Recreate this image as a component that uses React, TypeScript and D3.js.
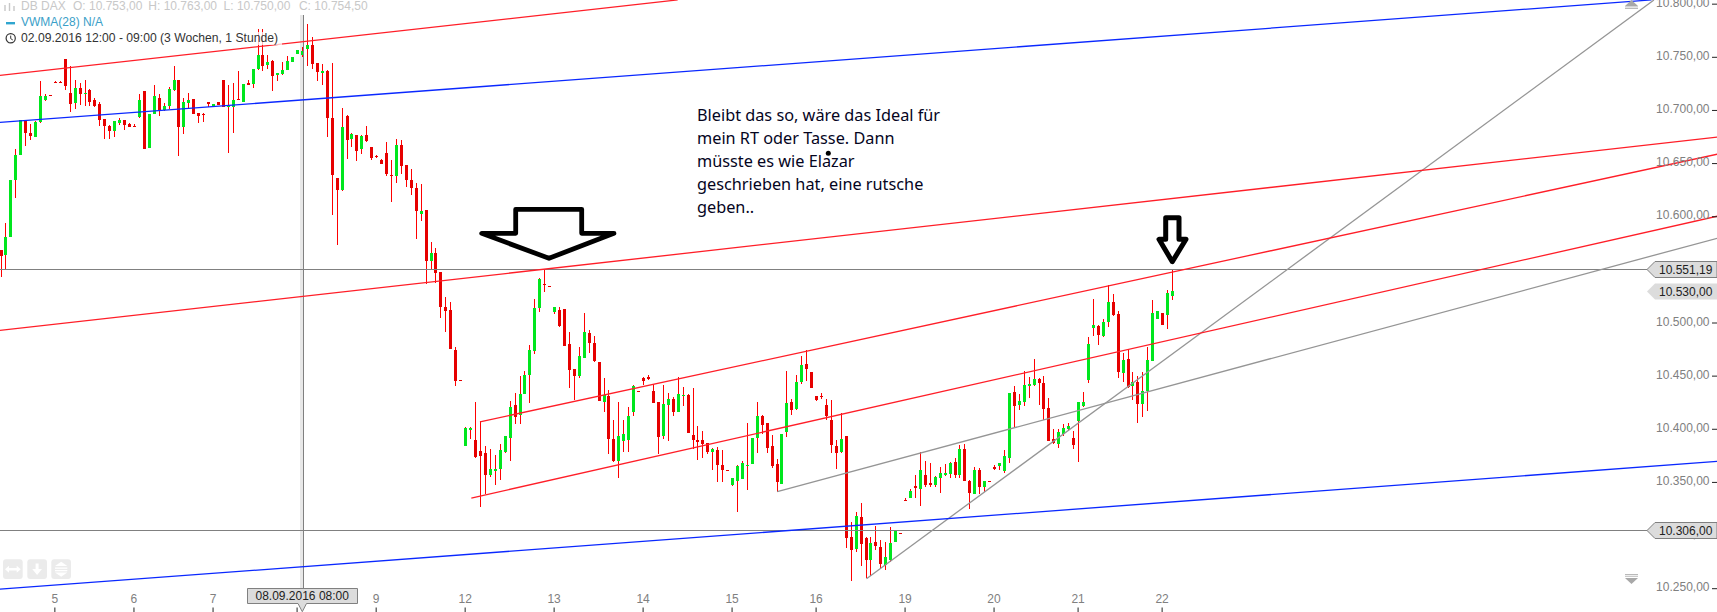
import React from "react";
import * as d3 from "d3";

type Candle = [number, number, number, number];

// [open, high, low, close] per hour, one list per trading stretch
const candlesSep02to06: Candle[] = [
  [10569,10569,10543,10563],[10564,10594,10550,10581],[10581,10635,10581,10635],[10635,10664,10618,10658],
  [10658,10691,10658,10691],[10691,10691,10667,10679],[10679,10687,10672,10676],[10675,10690,10675,10689],
  [10689,10728,10688,10714],[10710,10715,10709,10714],[10714.5,10714.5,10714,10714],[10726.5,10728,10726,10726],
  [10726.5,10728,10726,10726],[10748,10748,10719,10723],[10716,10742,10699,10706],[10707,10729,10701,10721],
  [10721,10726,10705,10715],[10715,10729,10704,10716.5],[10719,10720,10704,10708],[10710,10712,10703,10704],
  [10706,10708,10685,10691],[10692,10692,10673,10685],[10685,10686,10673,10681],[10681,10690,10675,10690],
  [10688,10693,10686,10691],[10691,10691,10682,10686],[10687,10688,10684,10684.5],[10685.5,10687,10684,10684],
  [10694,10715,10693,10710],[10718,10718,10664,10664],[10665,10697,10665,10697],[10697,10724,10697,10714],
  [10712,10715,10695,10700],[10700,10707,10699.5,10704],[10704,10722,10701,10720],[10719,10742,10718,10729],
  [10729,10729,10657,10684.5],[10684,10712,10678,10708],[10707,10716,10701.5,10710],[10711,10711,10697,10697],
  [10698,10698,10688.6,10695],[10697,10698,10689,10695.5],[10708,10708,10703.6,10706],
];
const candlesSep07to08: Candle[] = [
  [10704,10706,10704,10706],[10708,10708,10705,10705],[10729,10729,10703,10703],[10703,10724,10660,10704.5],
  [10703,10726,10679,10710],[10710.5,10737,10710,10710],[10708,10725,10708,10725],[10725.6,10729,10724,10724],
  [10725,10739,10721,10739],[10739,10777,10738,10752],[10752,10777,10737.5,10742],[10743,10752,10739,10746],
  [10746.6,10747,10718,10732.5],[10733.4,10735,10728,10735],[10734.4,10746,10733,10738],[10738,10751,10738,10746.6],
  [10746,10750,10746,10750],[10753,10757,10753,10757],[10752,10760,10750,10755.5],[10757.6,10781.4,10741.6,10761.7],
  [10761.7,10769,10739,10744],[10744.7,10745,10728,10736.6],[10735,10744,10724,10737.5],[10737,10738,10675,10693],
  [10693,10745,10602,10639],[10636.5,10636.5,10573,10625],[10625,10702,10624,10684.5],[10695,10696,10654,10672],
  [10673,10679,10666,10678],[10677,10677,10652.5,10662],[10664,10677,10659,10676],[10677,10685.5,10670,10671],
  [10666,10666,10653.5,10655],[10657.5,10658.5,10655.4,10656],[10653.5,10654,10649.7,10649.7],
];
const candlesSep09: Candle[] = [
  [10660,10670,10638,10640],[10639.4,10653,10614,10638],[10638,10673,10632,10667.6],[10667.6,10672,10640,10648],
  [10649,10649,10628,10635],[10635,10645,10620.5,10627],[10627,10632,10579.5,10605],[10603,10631,10596,10605],
  [10606,10606,10537,10558],[10558,10576,10550.6,10566],[10566,10571,10538,10547.5],[10548,10548,10505,10515],
  [10515,10524,10491.6,10511.7],[10512,10520,10476,10476],[10475,10477,10441,10445.5],[10446.5,10446.5,10446,10446],
];
const candlesSep12: Candle[] = [
  [10384.7,10402.5,10384.7,10401.6],[10399,10402,10391,10401.3],[10390,10426,10373,10374],[10380,10408,10327,10375],
  [10378,10384,10339,10357],[10357,10381.5,10355,10362.7],[10361,10376,10347.6,10362.7],[10362.7,10386,10352,10380.6],
  [10379,10394,10377.7,10393.7],[10392,10427,10369.7,10421],[10423,10434,10405,10412],[10413,10450,10405,10433],
  [10433,10455,10433,10451],[10451,10479,10425,10475],[10474,10523,10471,10514],[10514,10542,10510,10541.5],
  [10537,10551,10529,10536.5],[10534.6,10534.6,10534,10534],
];
const candlesSep13: Candle[] = [
  [10510,10515,10508.6,10515],[10512,10515,10496.7,10497],[10513,10513,10478,10478],[10480,10492,10439,10456],
  [10457,10457,10428,10450.6],[10450,10477.5,10448,10469],[10467.5,10509,10467,10491.6],[10491,10493.5,10472,10481],
  [10481,10488,10463.7,10464],[10463,10463,10427,10427],[10426,10448,10416,10432],[10431,10437,10377,10391],
  [10391,10409,10369,10370],[10370,10426,10354.5,10394],[10389,10409,10379,10396],[10390,10421,10379,10412.6],
  [10416.7,10442,10412.6,10441],[10436,10436,10435.5,10435.5],
];
const candlesSep14: Candle[] = [
  [10448.4,10449,10441.8,10445.8],[10449.3,10451,10446.5,10447.4],[10436,10443,10424.8,10425],[10426,10426,10377,10393],
  [10394,10442,10390.7,10424],[10423,10434,10389,10428.6],[10428.6,10430,10412.6,10416.4],[10416.4,10449.3,10416,10433],
  [10432,10440,10422,10432.5],[10432.5,10433.5,10396.6,10396.6],[10395,10439,10381.6,10390],[10390,10403,10371,10388],
  [10390,10398,10373,10386.3],[10387,10387.5,10377,10379],[10378.7,10382,10362,10381.6],[10380.6,10383,10350,10366.4],
  [10366.4,10380.6,10350.8,10361.7],[10361.6,10361.6,10361,10361],
];
const candlesSep15: Candle[] = [
  [10347.6,10354.2,10346.7,10354.2],[10351,10366,10322.5,10365.5],[10353.3,10370,10353,10368.3],[10366,10406,10343,10366.6],
  [10367.4,10392,10367,10391.8],[10392,10425.7,10378,10412.5],[10412.5,10413,10396,10404],[10406,10406,10378,10382.4],
  [10384.3,10395,10363.6,10365.5],[10367.4,10372,10341,10350.5],[10348.6,10395.6,10348.6,10395.6],[10397,10455,10393,10425],
  [10425.7,10428.6,10413.5,10418.2],[10418.8,10451,10418,10444.6],[10444.6,10469,10442.7,10460.6],[10461.5,10474.7,10445.5,10456.8],
  [10454,10454,10438.9,10438.9],
];
const candlesSep16: Candle[] = [
  [10431.4,10431.4,10426.7,10427.6],[10431.2,10433.9,10428.6,10431],[10423,10428.6,10408.8,10412.6],[10408.8,10427.6,10377.8,10385.3],
  [10384.4,10390,10362.7,10377.8],[10378.7,10415,10377.5,10390.9],[10393.8,10393.8,10288.4,10297.8],[10298.8,10312.9,10257.7,10286.6],
  [10287.5,10322.3,10285,10318.5],[10317.6,10330.8,10271,10292.5],[10297.8,10298.8,10259.6,10277.2],[10277.2,10298.8,10262.4,10293.1],
  [10294,10309,10286.6,10290.3],[10289.4,10296,10268.7,10273.4],[10272.4,10294,10267.7,10280],[10277.2,10308.2,10275,10293],
  [10294.4,10304.4,10294.4,10304.4],[10302.5,10302.5,10302,10302],
];
const candlesSep19: Candle[] = [
  [10333.7,10335.4,10333,10333.3],[10335.7,10343.9,10335,10342],[10347,10357,10335,10344.8],[10344,10378.7,10328.2,10361.8],
  [10357,10370,10345.8,10347.7],[10349.5,10368.4,10345.8,10347.7],[10347.7,10356,10346,10355.2],[10354.6,10364.3,10340,10359],
  [10357,10367,10356,10359.3],[10358.3,10369.3,10354.6,10368.4],[10369.3,10372.8,10354.6,10357],[10357,10385.3,10354,10381.5],
  [10381.5,10386.2,10351,10351.4],[10351.4,10352,10325,10340],[10339.2,10364.6,10339,10361.8],[10361.8,10363.7,10339.2,10345.8],
  [10345.8,10351.4,10341.4,10351.4],[10351.2,10351.2,10350.8,10350.8],
];
const candlesSep20: Candle[] = [
  [10364.6,10366.8,10361.5,10362.7],[10365.8,10368,10361.5,10368],[10360.8,10380.6,10358.6,10374.9],[10373,10434.2,10368.4,10434.2],
  [10435.2,10440.8,10402,10422],[10422.9,10433,10418,10426.7],[10425.7,10454.9,10422,10441.7],[10440.8,10449,10429.5,10442.7],
  [10442,10466.2,10441,10447.4],[10447.4,10448.6,10422.9,10443.6],[10443.6,10450.2,10408.8,10419.2],[10420,10429.5,10389,10389],
  [10390.9,10400,10386,10387.2],[10386.2,10400.3,10382.5,10397.5],[10395.3,10405,10394,10401.3],[10400,10406,10398,10403.2],
  [10391.9,10398.5,10381.5,10385.3],
];
const candlesSep21to22: Candle[] = [
  [10407.9,10425.7,10369.3,10425.7],[10422,10435.2,10421,10425.7],[10446.5,10486.9,10443.6,10480.3],[10495.4,10522.7,10487.8,10498.2],
  [10497.3,10498,10479.4,10488.8],[10487.9,10503.8,10487,10501],[10501,10535.8,10496.3,10519.8],[10519.8,10527.4,10507,10507.6],
  [10508.5,10511.4,10448.3,10454],[10453,10471.9,10444.6,10465.3],[10466.2,10475.6,10439,10439.9],[10440.8,10454,10427.6,10444.6],
  [10444.6,10450.2,10406,10423.9],[10423.9,10454,10411.6,10436.1],[10436.1,10477.5,10417.3,10465.3],[10464.3,10521.7,10464,10509.5],
  [10503.8,10511.4,10503.8,10511.4],[10509.5,10509.5,10498.2,10498.2],[10507.6,10531.1,10494.4,10528.3],[10525.5,10550,10521.7,10530.2],
];

const candles: Candle[] = [
  ...candlesSep02to06, ...candlesSep07to08, ...candlesSep09, ...candlesSep12, ...candlesSep13, ...candlesSep14,
  ...candlesSep15, ...candlesSep16, ...candlesSep19, ...candlesSep20, ...candlesSep21to22,
];

// Trend lines: [candle index A, price A, candle index B, price B]
const redTrends = [
  [-1, 10732.5, 137, 10804],
  [-1, 10492.5, 347.5, 10675],
  [97, 10407, 347.5, 10659],
  [95.25, 10335.3, 347.5, 10600.7],
];
const blueTrends = [
  [-1, 10688.5, 334, 10804],
  [-1, 10249.2, 347.5, 10369.9],
];
const greyTrends = [
  [157.15, 10341.3, 347.5, 10580],
  [175.2, 10259.4, 334.5, 10803.9],
];
const levelPrices = [10550.6, 10305];

const priceTicks = [10800, 10750, 10700, 10650, 10600, 10500, 10450, 10400, 10350, 10300, 10250];
const priceTickLabels = ["10.800,00", "10.750,00", "10.700,00", "10.650,00", "10.600,00", "10.500,00", "10.450,00", "10.400,00", "10.350,00", "10.300,00", "10.250,00"];
const dayTickIndex = [11, 27, 43, 60, 76, 94, 112, 130, 148, 165, 183, 201, 218, 235];
const dayTickLabels = ["5", "6", "7", "", "9", "12", "13", "14", "15", "16", "19", "20", "21", "22"];
const noteLines = [
  "Bleibt das so, wäre das Ideal für",
  "mein RT oder Tasse. Dann",
  "müsste es wie Elazar",
  "geschrieben hat, eine rutsche",
  "geben..",
];
const headerValues = ["O: 10.753,00", "H: 10.763,00", "L: 10.750,00", "C: 10.754,50"];
const priceTags = [
  { label: "10.551,19", price: 10550.6, outlined: true },
  { label: "10.530,00", price: 10530, outlined: false },
  { label: "10.306,00", price: 10305, outlined: true },
];

const sans = "'Liberation Sans', Arial, sans-serif";
const WIDTH = 1717;
const HEIGHT = 612;

export default function App() {
  const x = d3.scaleLinear().domain([0, 237]).range([0.5, 1172]);
  const y = d3.scaleLinear().domain([10750, 10250]).range([57.3, 588.7]);
  const px = (i: number) => Math.round(x(i)) + 0.5;
  const crisp = (v: number) => Math.floor(v) + 0.5;
  const trend = d3.line<number[]>().x((d) => x(d[0])).y((d) => y(d[1]));
  const trendPath = (t: number[]) => trend([[t[0], t[1]], [t[2], t[3]]]) as string;
  const crossX = 303.5;

  return (
    <svg width={WIDTH} height={HEIGHT} viewBox={`0 0 ${WIDTH} ${HEIGHT}`}
      style={{ position: "absolute", left: 0, top: 0, display: "block", background: "#fff" }}
      fontFamily={sans} fontSize={12}>
      {/* crosshair band */}
      <rect x={300} y={15} width={3.5} height={574} fill="#e8e8e8" />

      {/* candles */}
      <g shapeRendering="crispEdges">
        {candles.map(([o, h, l, c], i) => {
          const cx = px(i);
          const top = Math.round(y(Math.max(o, c)));
          const bot = Math.max(top + 1, Math.round(y(Math.min(o, c))));
          const up = c > o;
          return (
            <g key={i}>
              <line x1={cx} x2={cx} y1={Math.round(y(h))} y2={Math.round(y(l))} stroke="#ff0000" />
              <rect x={cx - 1.5} y={top} width={3} height={bot - top} fill={up ? "#00e61e" : "#e60000"} />
            </g>
          );
        })}
      </g>

      {/* trend lines */}
      <g fill="none" shapeRendering="crispEdges" strokeWidth={1} stroke="#808080">
        {levelPrices.map((p) => (
          <line key={p} x1={0} x2={1650} y1={crisp(y(p))} y2={crisp(y(p))} />
        ))}
        <line x1={crossX} x2={crossX} y1={15} y2={589} />
      </g>
      <g fill="none" strokeWidth={1.3}>
        {greyTrends.map((t, i) => <path key={i} d={trendPath(t)} stroke="#959595" />)}
        {redTrends.map((t, i) => <path key={i} d={trendPath(t)} stroke="#ff1e28" />)}
        {blueTrends.map((t, i) => <path key={i} d={trendPath(t)} stroke="#0a28ff" />)}
      </g>

      {/* header */}
      <rect x={4} y={32} width={278} height={13} fill="#fff" opacity={0.72} />
      <g stroke="#c8c8c8" strokeWidth={1.4}>
        <line x1={5} x2={5} y1={5} y2={11} />
        <line x1={9.5} x2={9.5} y1={3} y2={11} />
        <line x1={14} x2={14} y1={6} y2={11} />
      </g>
      <g fill="#c8c8c8">
        <text x={21} y={10}>DB DAX</text>
        {headerValues.map((t, i) => <text key={t} x={73 + i * 75.3} y={10}>{t}</text>)}
      </g>
      <rect x={6} y={22} width={9} height={2.4} fill="#2fa5cf" />
      <text x={21} y={26} fill="#3aa0c8">VWMA(28)</text>
      <text x={83} y={26} fill="#3aa0c8">N/A</text>
      <circle cx={10.7} cy={38.3} r={4.6} fill="none" stroke="#333" strokeWidth={1.2} />
      <path d="M10.7 35.6V38.6L12.8 40" fill="none" stroke="#333" strokeWidth={1} />
      <text x={21} y={42} fill="#333" fontSize={12.15}>02.09.2016 12:00 - 09:00 (3 Wochen, 1 Stunde)</text>

      {/* price axis */}
      <g>
        {priceTicks.map((p, i) => (
          <g key={p}>
            <line x1={1712} x2={1717} y1={y(p)} y2={y(p)} stroke="#222" />
            <text x={1709.5} y={y(p) + 2.6} textAnchor="end" fill="#808080">{priceTickLabels[i]}</text>
          </g>
        ))}
      </g>

      {/* price tags */}
      {priceTags.map((t) => {
        const m = crisp(y(t.price));
        return (
          <g key={t.label}>
            <path d={`M1647 ${m}L1655 ${m - 8}H1717V${m + 8}H1655Z`} fill="#dcdcdc" stroke={t.outlined ? "#808080" : "none"} />
            <text x={1659} y={m + 4} fill="#222">{t.label}</text>
          </g>
        );
      })}

      {/* scale handles */}
      <g fill="#a8a8a8">
        <path d="M1625 6L1631.5 0L1638 6Z" />
        <rect x={1625} y={6.5} width={13} height={0.8} />
        <rect x={1625} y={8.2} width={13} height={0.8} />
        <rect x={1625} y={574} width={13} height={0.8} />
        <rect x={1625} y={575.8} width={13} height={0.8} />
        <path d="M1625 578L1631.5 584L1638 578Z" />
      </g>

      {/* time axis */}
      {dayTickIndex.map((d, i) => (
        <g key={d}>
          <line x1={x(d)} x2={x(d)} y1={607.5} y2={612} stroke="#222" />
          <text x={x(d)} y={603} textAnchor="middle" fill="#808080">{dayTickLabels[i]}</text>
        </g>
      ))}
      <path d="M247.5 588.5H357.5V603.5H306.5L302.3 611.7L298 603.5H247.5Z" fill="#dcdcdc" stroke="#808080" />
      <text x={302.2} y={600} textAnchor="middle" fill="#222">08.09.2016 08:00</text>

      {/* toolbar */}
      <g fill="#ebebeb">
        <rect x={3} y={559.3} width={19.7} height={19.7} rx={3} />
        <rect x={27.3} y={559.3} width={19.7} height={19.7} rx={3} />
        <rect x={51.3} y={559.3} width={19.7} height={19.7} rx={3} />
      </g>
      <g fill="#fff">
        <path d="M5 569.2L9 565.7V568H16.7V565.7L20.7 569.2L16.7 572.7V570.4H9V572.7Z" />
        <path d="M35.6 563.5H38.6V569H42L37.1 575L32.2 569H35.6Z" />
        <path d="M55 566L61.2 561.8L67.3 566Z" />
        <rect x={55} y={567.5} width={12.3} height={1.3} />
        <rect x={55} y={570} width={12.3} height={1.3} />
        <path d="M55 572.5L61.2 576.7L67.3 572.5Z" />
      </g>

      {/* hand-drawn annotations */}
      <g fill="none" stroke="#000" strokeLinejoin="round">
        <path d="M515.7 209.3H581.7V233.3H614L549 258.3L481.7 233.3H515.7Z" strokeWidth={4.8} />
        <path d="M1165.7 217.7H1179V239.3H1186L1172.3 261.7L1159 239.3H1165.7Z" strokeWidth={5} />
      </g>
      <g fontFamily="'Noto Sans', 'Open Sans', sans-serif" fontSize={16.28} fill="#05051e">
        {noteLines.map((t, i) => <text key={t} x={697} y={120.7 + i * 23.15}>{t}</text>)}
      </g>
      <circle cx={828.3} cy={153.3} r={2.5} fill="#000" />
    </svg>
  );
}
